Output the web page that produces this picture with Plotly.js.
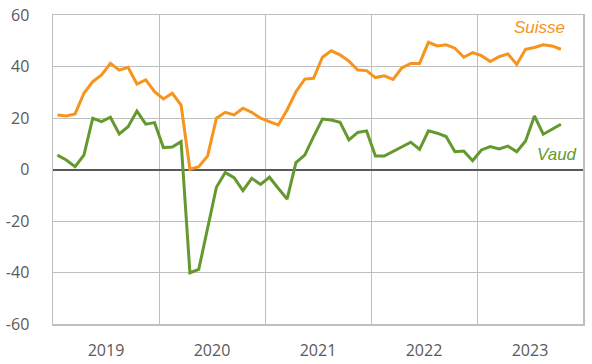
<!DOCTYPE html>
<html><head><meta charset="utf-8">
<script src="https://cdn.plot.ly/plotly-3.0.1.min.js"></script>
<style>html,body{margin:0;padding:0;background:#fff}#chart{width:592px;height:364px}</style>
</head><body><div id="chart"></div>
<script>
const months = [];
for (let y = 2019; y <= 2023; y++) for (let m = 1; m <= 12; m++) months.push(y + '-' + String(m).padStart(2, '0'));
const years = ['2019', '2020', '2021', '2022', '2023'];
const yTicks = [-60, -40, -20, 0, 20, 40, 60];
const yTickText = ['-60', '-40', '-20', '0', '20', '40', '60'];
const suisse = [21.2, 20.8, 21.6, 29.6, 34.1, 36.7, 41.2, 38.6, 39.7, 33.2, 34.8, 30.2,
  27.4, 29.6, 25.0, 0.1, 1.1, 5.2, 19.9, 22.2, 21.2, 23.8, 22.2, 19.9,
  18.6, 17.3, 23.1, 30.2, 35.1, 35.4, 43.6, 46.1, 44.5, 42.1, 38.6, 38.4,
  35.7, 36.4, 35.0, 39.5, 41.2, 41.2, 49.4, 48.0, 48.4, 47.1, 43.6, 45.4,
  44.2, 41.9, 43.8, 44.9, 40.8, 46.7, 47.4, 48.4, 48.0, 46.7];
const vaud = [5.6, 3.7, 1.1, 5.6, 19.9, 18.6, 20.3, 13.8, 16.6, 22.7, 17.6, 18.2,
  8.5, 8.7, 10.8, -40.1, -38.8, -22.9, -6.9, -1.2, -3.2, -8.2, -3.4, -5.8,
  -3.0, -7.3, -11.5, 2.7, 5.6, 12.8, 19.6, 19.2, 18.3, 11.5, 14.4, 15.0,
  5.2, 5.2, 6.9, 8.9, 10.6, 7.8, 15.0, 14.1, 12.8, 6.9, 7.2, 3.4,
  7.6, 8.9, 8.0, 9.1, 6.9, 11.1, 20.8, 13.7, 15.6, 17.6];
const idx = a => a.map((v, i) => months.indexOf(months[i]));
const orange = '#F7941D', green = '#64992F';
const traces = [
  {x: idx(suisse), y: suisse, type: 'scatter', mode: 'lines', name: 'Suisse', line: {color: orange, width: 3}},
  {x: idx(vaud), y: vaud, type: 'scatter', mode: 'lines', name: 'Vaud', line: {color: green, width: 3}}
];
const tickFont = {family: '"Open Sans", sans-serif', size: 16, color: '#595959'};
const layout = {
  width: 592, height: 364,
  margin: {l: 53, r: 9, t: 15, b: 40},
  showlegend: false,
  paper_bgcolor: '#fff', plot_bgcolor: '#fff',
  font: tickFont,
  xaxis: {
    range: [-0.5, 59.5], tickmode: 'array',
    tickvals: years.map((y, i) => i * 12 + 5.5), ticktext: years,
    showgrid: false, zeroline: false, ticks: '', ticklabelstandoff: 11,
    tickfont: tickFont,
    showline: true, mirror: true, linecolor: '#BFBFBF', linewidth: 1.5,
    minor: {tickmode: 'array', tickvals: [11.5, 23.5, 35.5, 47.5], showgrid: true, gridcolor: '#BFBFBF', gridwidth: 1, ticks: ''}
  },
  yaxis: {
    range: [-60, 60], tickmode: 'array', tickvals: yTicks, ticktext: yTickText,
    gridcolor: '#BFBFBF', gridwidth: 1,
    zeroline: true, zerolinecolor: '#595959', zerolinewidth: 2,
    ticks: '', ticklabelstandoff: 19, tickfont: tickFont,
    showline: true, mirror: true, linecolor: '#BFBFBF', linewidth: 1.5
  },
  annotations: [
    {text: 'Suisse', xref: 'paper', yref: 'paper', x: 0.918, y: 0.958, xanchor: 'center', yanchor: 'middle', showarrow: false,
     font: {family: '"Liberation Sans", Arial, sans-serif', size: 17, color: orange, style: 'italic'}},
    {text: 'Vaud', xref: 'paper', yref: 'paper', x: 0.950, y: 0.547, xanchor: 'center', yanchor: 'middle', showarrow: false,
     font: {family: '"Liberation Sans", Arial, sans-serif', size: 17, color: green, style: 'italic'}}
  ]
};
Plotly.newPlot('chart', traces, layout, {staticPlot: true, displayModeBar: false});
</script></body></html>
